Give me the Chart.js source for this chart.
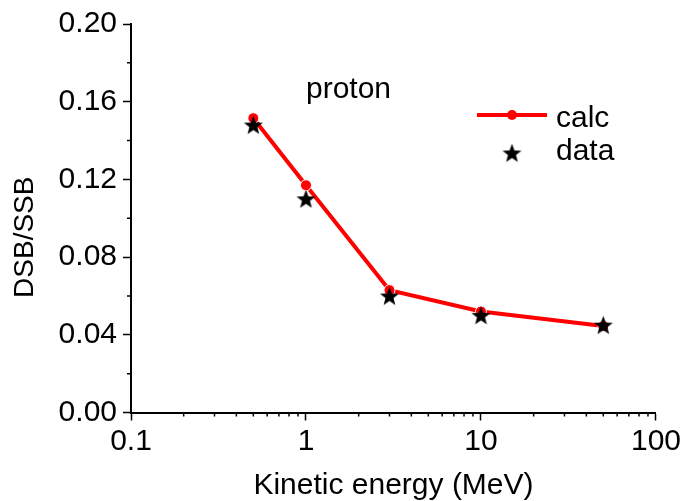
<!DOCTYPE html>
<html>
<head>
<meta charset="utf-8">
<script src="https://cdn.jsdelivr.net/npm/chart.js@4.4.1/dist/chart.umd.min.js"></script>
<style>
  html, body { margin: 0; padding: 0; background: #fff; }
  #wrap { width: 684px; height: 501px; }
</style>
</head>
<body>
<div id="wrap"><canvas id="chart"></canvas></div>
<script>
// Data
const energies = [0.5, 1, 3, 10, 50];            // MeV
const calcValues = [0.1515, 0.117, 0.063, 0.052, 0.0445];
const dataValues = [0.148, 0.110, 0.060, 0.050, 0.045];

const xMajorTicks = [0.1, 1, 10, 100];
const yTickStep = 0.02;
const yLabelStep = 0.04;

const FONT = '"Liberation Sans", Arial, sans-serif';
const FONT_SIZE = 30;

// tick list for log axis: decades plus 2..9 minors
const xTickValues = [];
xMajorTicks.forEach(function (d, i) {
  xTickValues.push({ value: d, major: true });
  if (i < xMajorTicks.length - 1) {
    for (let k = 2; k <= 9; k++) xTickValues.push({ value: d * k, major: false });
  }
});

function isYMajor(v) {
  return Math.round(v / yTickStep) % Math.round(yLabelStep / yTickStep) === 0;
}

// filled five point star used as marker
function makeStar(size) {
  const c = document.createElement('canvas');
  c.width = size;
  c.height = size;
  const g = c.getContext('2d');
  const cx = size / 2, cy = size / 2 + 0.8;
  const R = size / 2 - 0.5, r = R * 0.42;
  g.beginPath();
  for (let i = 0; i < 10; i++) {
    const a = -Math.PI / 2 + i * Math.PI / 5;
    const rad = i % 2 === 0 ? R : r;
    const px = cx + rad * Math.cos(a), py = cy + rad * Math.sin(a);
    if (i === 0) g.moveTo(px, py); else g.lineTo(px, py);
  }
  g.closePath();
  g.fillStyle = '#000';
  g.fill();
  return c;
}
const starImg = makeStar(21);

// minor ticks, axis title on y, text note and legend
const extrasPlugin = {
  id: 'extras',
  afterDraw(chart) {
    const ctx = chart.ctx;
    const ca = chart.chartArea;
    const xs = chart.scales.x, ys = chart.scales.y;
    ctx.save();
    ctx.strokeStyle = '#000';
    ctx.lineWidth = 1.5;
    ctx.beginPath();
    xs.ticks.forEach(function (t) {
      if (t.major) return;
      const px = xs.getPixelForValue(t.value);
      ctx.moveTo(px, ca.bottom);
      ctx.lineTo(px, ca.bottom + 4);
    });
    ys.ticks.forEach(function (t) {
      if (isYMajor(t.value)) return;
      const py = ys.getPixelForValue(t.value);
      ctx.moveTo(ca.left, py);
      ctx.lineTo(ca.left - 4, py);
    });
    ctx.stroke();

    ctx.fillStyle = '#000';

    // y title
    ctx.save();
    ctx.font = '28px ' + FONT;
    ctx.translate(25, (ca.top + ca.bottom) / 2 + 19);
    ctx.rotate(-Math.PI / 2);
    ctx.textAlign = 'center';
    ctx.textBaseline = 'middle';
    ctx.fillText('DSB/SSB', 0, 0);
    ctx.restore();

    ctx.font = FONT_SIZE + 'px ' + FONT;
    // note
    ctx.textAlign = 'left';
    ctx.textBaseline = 'alphabetic';
    ctx.fillText('proton', xs.getPixelForValue(1), ys.getPixelForValue(0.162));

    // legend
    const lx = ca.left + 346, ly = ca.top + 91;
    ctx.strokeStyle = '#ff0000';
    ctx.lineWidth = 4;
    ctx.beginPath();
    ctx.moveTo(lx, ly);
    ctx.lineTo(lx + 70, ly);
    ctx.stroke();
    ctx.fillStyle = '#ff0000';
    ctx.beginPath();
    ctx.arc(lx + 35, ly, 5, 0, Math.PI * 2);
    ctx.fill();
    ctx.drawImage(starImg, lx + 35 - starImg.width / 2, ly + 38 - starImg.height / 2);
    ctx.fillStyle = '#000';
    ctx.fillText('calc', lx + 79, ly + 12);
    ctx.fillText('data', lx + 79, ly + 45);
    ctx.restore();
  }
};

const ctx = document.getElementById('chart').getContext('2d');
const chart = new Chart(ctx, {
  type: 'line',
  data: {
    datasets: [
      {
        label: 'data',
        data: energies.map(function (e, i) { return { x: e, y: dataValues[i] }; }),
        showLine: false,
        pointStyle: starImg,
        pointRadius: 10,
        order: 1,
      },
      {
        label: 'calc',
        data: energies.map(function (e, i) { return { x: e, y: calcValues[i] }; }),
        borderColor: '#ff0000',
        borderWidth: 4,
        tension: 0,
        pointRadius: 5.5,
        pointBackgroundColor: '#ff0000',
        pointBorderColor: '#ffffff',
        pointBorderWidth: 1,
        order: 2,
      },
    ],
  },
  options: {
    responsive: true,
    maintainAspectRatio: false,
    animation: false,
    events: [],
    layout: { padding: { top: 22, right: 26, bottom: 0, left: 0 } },
    plugins: {
      legend: { display: false },
      tooltip: { enabled: false },
    },
    scales: {
      x: {
        type: 'logarithmic',
        min: 0.1,
        max: 100,
        afterBuildTicks(scale) {
          scale.ticks = xTickValues.map(function (t) { return { value: t.value, major: t.major }; });
        },
        afterFit(scale) { scale.height = 88.5; },
        grid: {
          drawOnChartArea: false,
          tickLength: 8,
          tickWidth: 1.5,
          tickColor: function (c) { return c.tick && c.tick.major ? '#000' : 'rgba(0,0,0,0)'; },
        },
        border: { display: true, color: '#000', width: 2 },
        ticks: {
          autoSkip: false,
          maxRotation: 0,
          padding: 3,
          color: '#000',
          font: { family: FONT, size: FONT_SIZE },
          callback: function (value, index, ticks) {
            return ticks[index].major ? String(value) : '';
          },
        },
        title: {
          display: true,
          text: 'Kinetic energy (MeV)',
          color: '#000',
          font: { family: FONT, size: FONT_SIZE, lineHeight: 1.0 },
          padding: { top: 0, bottom: 0 },
        },
      },
      y: {
        type: 'linear',
        min: 0,
        max: 0.2,
        afterFit(scale) { scale.width = 131; },
        grid: {
          drawOnChartArea: false,
          tickLength: 8,
          tickWidth: 1.5,
          tickColor: function (c) { return c.tick && isYMajor(c.tick.value) ? '#000' : 'rgba(0,0,0,0)'; },
        },
        border: { display: true, color: '#000', width: 2 },
        ticks: {
          stepSize: yTickStep,
          autoSkip: false,
          padding: 6,
          color: '#000',
          font: { family: FONT, size: FONT_SIZE },
          callback: function (value) {
            return isYMajor(value) ? value.toFixed(2) : '';
          },
        },
      },
    },
  },
  plugins: [extrasPlugin],
});
</script>
</body>
</html>
